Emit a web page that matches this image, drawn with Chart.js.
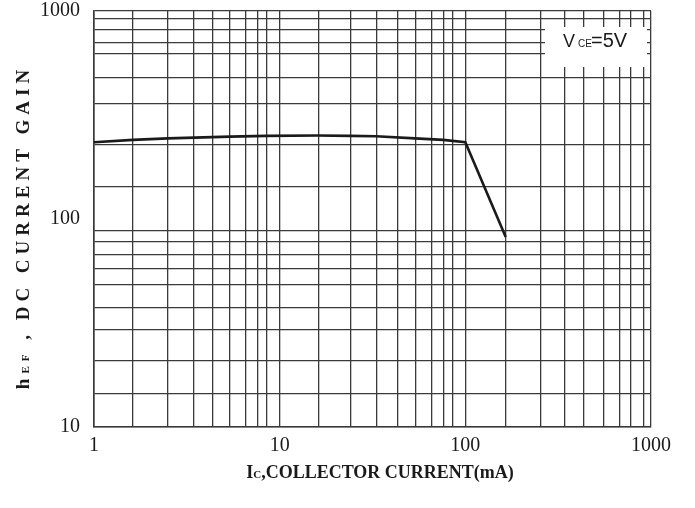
<!DOCTYPE html>
<html>
<head>
<meta charset="utf-8">
<title>hFE vs Ic</title>
<script src="https://cdn.jsdelivr.net/npm/chart.js@4"></script>
<style>
  html, body { margin: 0; padding: 0; background: #fff; }
  #wrap { width: 695px; height: 508px; }
</style>
</head>
<body>
<div id="wrap"><canvas id="gain-chart" width="695" height="508"></canvas></div>
<script>
// Collector current (mA) and DC current gain
const currentMA = [1, 1.62, 2.5, 5.4, 8.5, 16, 24, 33, 53.5, 76, 100, 165];
const gainHFE = [234, 240, 244, 249, 251, 252, 251, 250, 244, 240, 234, 82];

// Grid lines as drawn on the original sheet (not exact 2..9 spacing)
const xGridTicks = [1, 1.61, 2.5, 3.45, 4.35, 5.39, 6.57, 7.65, 8.49, 10,
  16.2, 24.1, 33.2, 43.3, 53.7, 65.5, 76, 85.4, 100,
  165, 254, 341, 432, 553, 675, 780, 908, 1000];
const yGridTicks = [10, 14.5, 20.8, 29.4, 37.5, 48.2, 57.4, 67.5, 78, 87.7, 100,
  143, 229, 357, 480, 621, 704, 816, 915, 1000];
const xTickLabels = [1, 10, 100, 1000];
const yTickLabels = [10, 100, 1000];
const yNoGridAt = [100];

const GRID = '#3a3a3a';
const INK = '#1a1a1a';

document.addEventListener('DOMContentLoaded', function () {
  const canvas = document.getElementById('gain-chart');
  const ctx = canvas.getContext('2d');

  const points = currentMA.map((x, i) => ({ x: x, y: gainHFE[i] }));

  // Draws axis titles and the VCE note box
  const sheetText = {
    id: 'sheetText',
    afterDraw(chart) {
      const c = chart.ctx;
      const area = chart.chartArea;
      c.save();

      // condition box, white over the grid
      const boxW = 102, boxH = 40;
      const boxX = area.right - 4 - boxW;
      const boxY = area.top + 16;
      c.fillStyle = '#fff';
      c.fillRect(boxX, boxY, boxW, boxH);
      c.fillStyle = INK;
      c.textBaseline = 'alphabetic';
      c.textAlign = 'left';
      let tx = boxX + 18;
      const base = boxY + 20;
      c.font = '18px "Liberation Sans", Arial, sans-serif';
      c.fillText('V', tx, base);
      tx += 15;
      c.font = '10px "Liberation Sans", Arial, sans-serif';
      c.fillText('CE', tx, base);
      tx += 13;
      c.font = '20px "Liberation Sans", Arial, sans-serif';
      c.fillText('=5V', tx, base);

      // x axis title
      const big = 'bold 18px "Liberation Serif", "Times New Roman", serif';
      const small = 'bold 11px "Liberation Serif", "Times New Roman", serif';
      const xParts = [['I', big], ['C', small], [',COLLECTOR CURRENT(mA)', big]];
      drawParts(c, xParts, 380, 478, 0);

      // y axis title, rotated
      c.translate(22, 227);
      c.rotate(-Math.PI / 2);
      const yBig = 'bold 19px "Liberation Serif", "Times New Roman", serif';
      const ySmall = 'bold 11px "Liberation Serif", "Times New Roman", serif';
      const yParts = [['h', yBig], ['EF', ySmall], [' , DC CURRENT GAIN', yBig]];
      drawParts(c, yParts, 0, 7, 5);

      c.restore();
    },
  };

  function drawParts(c, parts, cx, baseline, spacing) {
    if ('letterSpacing' in c) c.letterSpacing = spacing + 'px';
    let total = 0;
    parts.forEach(([t, f]) => { c.font = f; total += c.measureText(t).width; });
    let x = cx - total / 2;
    c.textAlign = 'left';
    c.textBaseline = 'alphabetic';
    c.fillStyle = INK;
    parts.forEach(([t, f]) => {
      c.font = f;
      c.fillText(t, x, baseline);
      x += c.measureText(t).width;
    });
    if ('letterSpacing' in c) c.letterSpacing = '0px';
  }

  new Chart(ctx, {
    type: 'line',
    data: {
      datasets: [
        {
          label: 'hFE',
          data: points,
          borderColor: INK,
          backgroundColor: 'rgba(0,0,0,0)',
          borderWidth: 2.6,
          pointRadius: 0,
          tension: 0,
        },
      ],
    },
    options: {
      responsive: false,
      animation: false,
      devicePixelRatio: 1,
      layout: { padding: { left: 0, right: 44, top: 11, bottom: 0 } },
      plugins: {
        legend: { display: false },
        tooltip: { enabled: false },
      },
      scales: {
        x: {
          type: 'logarithmic',
          min: 1,
          max: 1000,
          afterBuildTicks: (scale) => {
            scale.ticks = xGridTicks.map((v) => ({ value: v }));
          },
          afterFit: (scale) => {
            scale.height = 81;
            scale.paddingLeft = 0;
            scale.paddingRight = 0;
          },
          grid: { color: GRID, lineWidth: 1.3, drawTicks: false },
          border: { display: true, color: GRID, width: 1.6 },
          ticks: {
            autoSkip: false,
            maxRotation: 0,
            padding: 9,
            color: INK,
            font: { family: '"Liberation Serif", "Times New Roman", serif', size: 20, lineHeight: 1 },
            callback: (value) => (xTickLabels.includes(value) ? String(value) : ''),
          },
        },
        y: {
          type: 'logarithmic',
          min: 10,
          max: 1000,
          afterBuildTicks: (scale) => {
            scale.ticks = yGridTicks.map((v) => ({ value: v }));
          },
          afterFit: (scale) => {
            scale.width = 94;
            scale.paddingTop = 0;
            scale.paddingBottom = 0;
          },
          grid: {
            color: (c) => (c.tick && yNoGridAt.includes(c.tick.value) ? 'rgba(0,0,0,0)' : GRID),
            lineWidth: 1.3,
            drawTicks: false,
          },
          border: { display: true, color: GRID, width: 1.6 },
          ticks: {
            autoSkip: false,
            padding: 14,
            color: INK,
            font: { family: '"Liberation Serif", "Times New Roman", serif', size: 20, lineHeight: 1 },
            callback: (value) => (yTickLabels.includes(value) ? String(value) : ''),
          },
        },
      },
    },
    plugins: [sheetText],
  });
});
</script>
</body>
</html>
